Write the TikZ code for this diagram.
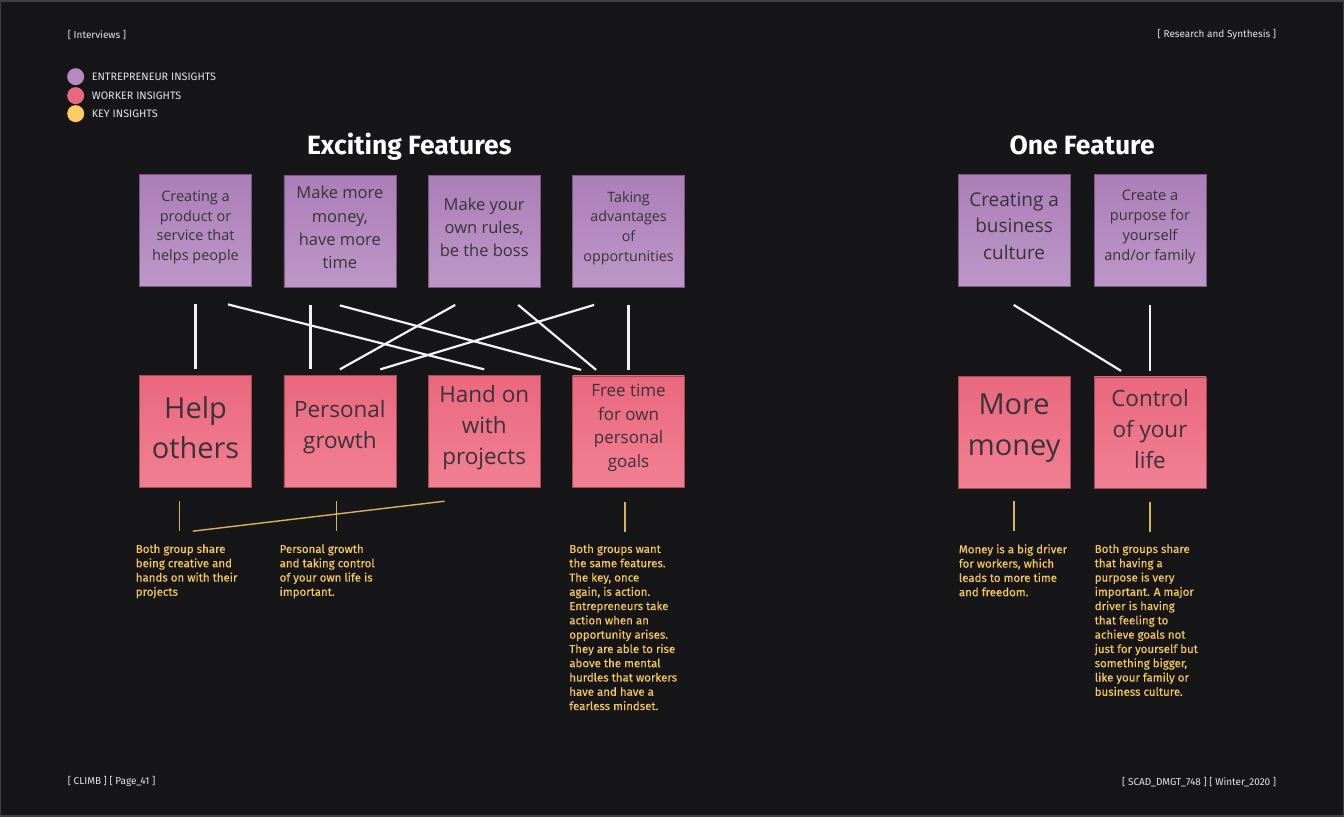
\documentclass[tikz,border=0pt]{standalone}
\usepackage{fontspec}
\setmainfont{Fira Sans}
\newfontfamily\notefont{Open Sans}
\newfontfamily\keyfont{Fira Sans}[FakeBold=0.35]
\newcommand{\notesize}[2]{\notefont\fontsize{#1}{#2}\selectfont}
\definecolor{bgc}{HTML}{161618}
\definecolor{ideac}{HTML}{B48AC0}
\definecolor{ideatop}{HTML}{AB7EB8}
\definecolor{ideabot}{HTML}{BD97C8}
\definecolor{workerc}{HTML}{EA677D}
\definecolor{workertop}{HTML}{EA687E}
\definecolor{workerbot}{HTML}{F18094}
\definecolor{keyc}{HTML}{FCCB61}
\definecolor{keytext}{HTML}{F5C75C}
\definecolor{keyline}{HTML}{D8B25C}
\definecolor{inkc}{HTML}{3A3238}
\definecolor{linkc}{HTML}{F2F2F2}
\definecolor{smallc}{HTML}{E6E6E6}
\begin{document}
\begin{tikzpicture}[x=1pt,y=-1pt,
  note/.style={minimum width=112pt,minimum height=112pt,inner sep=0pt,outer sep=0pt,line width=0.6pt},
  idea/.style={note,top color=ideatop,bottom color=ideabot,draw=ideatop!70!black},
  worker/.style={note,top color=workertop,bottom color=workerbot,draw=workertop!70!black},
  notetext/.style={align=center,inner sep=0pt,text=inkc},
  link/.style={draw=linkc,line width=2.2pt},
  keylink/.style={draw=keyline,line width=1.4pt},
  keynote/.style={anchor=north west,inner sep=0pt,align=left,text=keytext,font=\keyfont\fontsize{11.5}{14.3}\selectfont},
  small/.style={inner sep=0pt,text=smallc,font=\fontsize{10}{12}\selectfont},
  legend/.style={small,anchor=west,font=\fontsize{10.8}{12}\selectfont},
  dot/.style={circle,minimum size=17pt,inner sep=0pt},
  heading/.style={anchor=base,inner sep=0pt,text=white,font=\fontsize{26.5}{30}\selectfont\bfseries}]
  \fill[bgc,draw=black!75!white,line width=1.5pt] (0,0) rectangle (1344,816);
  % page labels
  \node[small,anchor=west] (hl) at (67,34) {[ Interviews ]};
  \node[small,anchor=east] (hr) at (1277,34) {[ Research and Synthesis ]};
  \node[small,anchor=west] (fl) at (67,782) {[ CLIMB ] [ Page\_41 ]};
  \node[small,anchor=east] (fr) at (1277,782) {[ SCAD\_DMGT\_748 ] [ Winter\_2020 ]};
  % legend
  \node[dot,fill=ideac] (l1) at (75,76) {};
  \node[dot,fill=workerc] (l2) at (75,95) {};
  \node[dot,fill=keyc] (l3) at (75,113) {};
  \node[legend] (l1t) at (91,76) {ENTREPRENEUR INSIGHTS};
  \node[legend] (l2t) at (91,95) {WORKER INSIGHTS};
  \node[legend] (l3t) at (91,113) {KEY INSIGHTS};
  % headings
  \node[heading] (h1) at (409,154) {Exciting Features};
  \node[heading] (h2) at (1082.5,154) {One Feature};
  % entrepreneur notes
  \node[idea] (e1) at (195,230) {};
  \node[idea] (e2) at (339.5,231) {};
  \node[idea] (e3) at (484,230.5) {};
  \node[idea] (e4) at (628.5,230.5) {};
  \node[idea] (e5) at (1014.5,229.5) {};
  \node[idea] (e6) at (1150.5,229.5) {};
  \node[notetext,font=\notesize{14.5}{19.7}] (e1t) at ([yshift=3pt]e1.center) {Creating a\\product or\\service that\\helps people};
  \node[notetext,font=\notesize{16.5}{23.3}] (e2t) at ([yshift=4pt]e2.center) {Make more\\money,\\have more\\time};
  \node[notetext,font=\notesize{16.5}{23}] (e3t) at ([yshift=4pt]e3.center) {Make your\\own rules,\\be the boss};
  \node[notetext,font=\notesize{14.3}{19.7}] (e4t) at ([yshift=3pt]e4.center) {Taking\\advantages\\of\\opportunities};
  \node[notetext,font=\notesize{19}{26.5}] (e5t) at ([yshift=4pt]e5.center) {Creating a\\business\\culture};
  \node[notetext,font=\notesize{14.6}{20}] (e6t) at ([yshift=3pt]e6.center) {Create a\\purpose for\\yourself\\and/or family};
  % worker notes
  \node[worker] (w1) at (195,431) {};
  \node[worker] (w2) at (339.5,431) {};
  \node[worker] (w3) at (484,431) {};
  \node[worker] (w4) at (628.5,431.5) {};
  \node[worker] (w5) at (1014.5,432) {};
  \node[worker] (w6) at (1150.5,432.5) {};
  \node[notetext,font=\notesize{29}{40}] (w1t) at ([yshift=4pt]w1.center) {Help\\others};
  \node[notetext,font=\notesize{22.5}{31}] (w2t) at ([yshift=4pt]w2.center) {Personal\\growth};
  \node[notetext,font=\notesize{22.5}{31}] (w3t) at ([yshift=4pt]w3.center) {Hand on\\with\\projects};
  \node[notetext,font=\notesize{17}{23.7}] (w4t) at ([yshift=4pt]w4.center) {Free time\\for own\\personal\\goals};
  \node[notetext,font=\notesize{29}{41}] (w5t) at ([yshift=4pt]w5.center) {More\\money};
  \node[notetext,font=\notesize{22.5}{31}] (w6t) at ([yshift=4pt]w6.center) {Control\\of your\\life};
  % links between the two rows
  \draw[link] ([yshift=-18pt]e1.south) -- ([yshift=6pt]w1.north);
  \draw[link] ([xshift=32.5pt,yshift=-18pt]e1.south) -- ([yshift=6pt]w3.north);
  \draw[link] ([xshift=-29.5pt,yshift=-18pt]e2.south) -- ([xshift=-29.5pt,yshift=6pt]w2.north);
  \draw[link] ([yshift=-18pt]e2.south) -- ([xshift=-47.5pt,yshift=6pt]w4.north);
  \draw[link] ([xshift=-29pt,yshift=-18pt]e3.south) -- ([yshift=6pt]w2.north);
  \draw[link] ([xshift=34pt,yshift=-18pt]e3.south) -- ([xshift=-32.5pt,yshift=6pt]w4.north);
  \draw[link] ([xshift=-34.5pt,yshift=-18pt]e4.south) -- ([xshift=40.5pt,yshift=6pt]w2.north);
  \draw[link] ([yshift=-18pt]e4.south) -- ([yshift=6pt]w4.north);
  \draw[link] ([xshift=-0.5pt,yshift=-19pt]e5.south) -- ([xshift=-29pt,yshift=6pt]w6.north);
  \draw[link] ([yshift=-19pt]e6.south) -- ([yshift=6pt]w6.north);
  % key insights
  \draw[keylink] ([xshift=-16pt,yshift=-14pt]w1.south) -- ([xshift=-16pt,yshift=-44pt]w1.south);
  \draw[keylink] ([xshift=-2.7pt,yshift=-44pt]w1.south) -- ([xshift=-39.7pt,yshift=-14pt]w3.south);
  \draw[keylink] ([xshift=-3.5pt,yshift=-14pt]w2.south) -- ([xshift=-3.5pt,yshift=-44pt]w2.south);
  \draw[keylink] ([xshift=-3.5pt,yshift=-14pt]w4.south) -- ([xshift=-3.5pt,yshift=-44pt]w4.south);
  \draw[keylink] ([yshift=-13pt]w5.south) -- ([yshift=-43pt]w5.south);
  \draw[keylink] ([yshift=-13pt]w6.south) -- ([yshift=-43pt]w6.south);
  \node[keynote] (k1) at (135,544) {Both group share\\being creative and\\hands on with their\\projects};
  \node[keynote] (k2) at (279,544) {Personal growth\\and taking control\\of your own life is\\important.};
  \node[keynote] (k3) at (569,544) {Both groups want\\the same features.\\The key, once\\again, is action.\\Entrepreneurs take\\action when an\\opportunity arises.\\They are able to rise\\above the mental\\hurdles that workers\\have and have a\\fearless mindset.};
  \node[keynote] (k4) at (959,544) {Money is a big driver\\for workers, which\\leads to more time\\and freedom.};
  \node[keynote] (k5) at (1095,544) {Both groups share\\that having a\\purpose is very\\important. A major\\driver is having\\that feeling to\\achieve goals not\\just for yourself but\\something bigger,\\like your family or\\business culture.};
\end{tikzpicture}
\end{document}
